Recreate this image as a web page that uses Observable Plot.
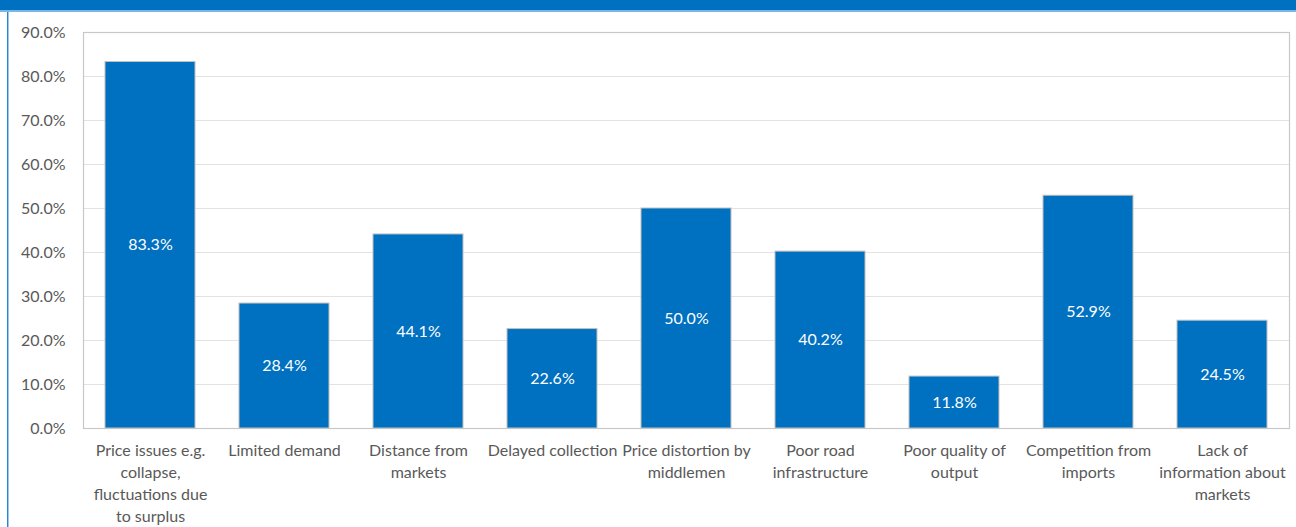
<!DOCTYPE html>
<html>
<head>
<meta charset="utf-8">
<script src="https://cdn.jsdelivr.net/npm/d3@7"></script>
<script src="https://cdn.jsdelivr.net/npm/@observablehq/plot@0.6"></script>
<style>
  html, body { margin: 0; padding: 0; background: #fff; width: 1296px; height: 527px; overflow: hidden; }
  #wrap { position: relative; width: 1296px; height: 527px; }
  #band { position: absolute; left: 0; top: 0; width: 1296px; height: 10px; background: #0070C0; border-bottom: 2px solid #7ab6e6; }
  #lborder { position: absolute; left: 7px; top: 12px; width: 1px; height: 515px; background: #2b86d0; border-right: 1px solid #9cc8ee; }
  #chart { position: absolute; left: 0; top: 0; }
</style>
</head>
<body>
<div id="wrap">
  <div id="chart"></div>
  <div id="band"></div>
  <div id="lborder"></div>
</div>
<script>
const categories = [
  "Price issues e.g. collapse, fluctuations due to surplus",
  "Limited demand",
  "Distance from markets",
  "Delayed collection",
  "Price distortion by middlemen",
  "Poor road infrastructure",
  "Poor quality of output",
  "Competition from imports",
  "Lack of information about markets"
];
const tickLabels = [
  "Price issues e.g.\ncollapse,\nfluctuations due\nto surplus",
  "Limited demand",
  "Distance from\nmarkets",
  "Delayed collection",
  "Price distortion by\nmiddlemen",
  "Poor road\ninfrastructure",
  "Poor quality of\noutput",
  "Competition from\nimports",
  "Lack of\ninformation about\nmarkets"
];
const values = [0.833, 0.284, 0.441, 0.226, 0.500, 0.402, 0.118, 0.529, 0.245];
const yTicks = [0, 0.1, 0.2, 0.3, 0.4, 0.5, 0.6, 0.7, 0.8, 0.9];

const data = categories.map((c, i) => ({category: c, value: values[i], label: tickLabels[i]}));
const labelOf = new Map(data.map(d => [d.category, d.label]));

const chart = Plot.plot({
  width: 1296,
  height: 527,
  marginLeft: 83,
  marginRight: 7,
  marginTop: 32,
  marginBottom: 99,
  style: { fontFamily: "Lato, 'Open Sans', sans-serif", fontSize: "16px", color: "#595959", background: "transparent" },
  x: { domain: categories, paddingInner: 0.33, paddingOuter: 0.165, label: null },
  y: { domain: [0, 0.9], label: null },
  marks: [
    Plot.gridY(yTicks, { stroke: "#e3e3e3", strokeOpacity: 1 }),
    Plot.frame({ stroke: "#c8c8c8", strokeWidth: 1.2 }),
    Plot.barY(data, { x: "category", y: "value", fill: "#0070C0", stroke: "#c0c0c0", strokeWidth: 1 }),
    Plot.text(data, { x: "category", y: d => d.value / 2, text: d => d3.format(".1%")(d.value), fill: "white", fontSize: 16 }),
    Plot.axisY({ ticks: yTicks, tickFormat: d3.format(".1%"), tickSize: 0, tickPadding: 18, fill: "#595959", fontSize: 16, label: null }),
    Plot.axisX({ tickFormat: c => labelOf.get(c), tickSize: 0, tickPadding: 12, lineHeight: 1.375, fill: "#595959", fontSize: 16, label: null, textOverflow: null })
  ]
});
document.getElementById("chart").appendChild(chart);
</script>
</body>
</html>
